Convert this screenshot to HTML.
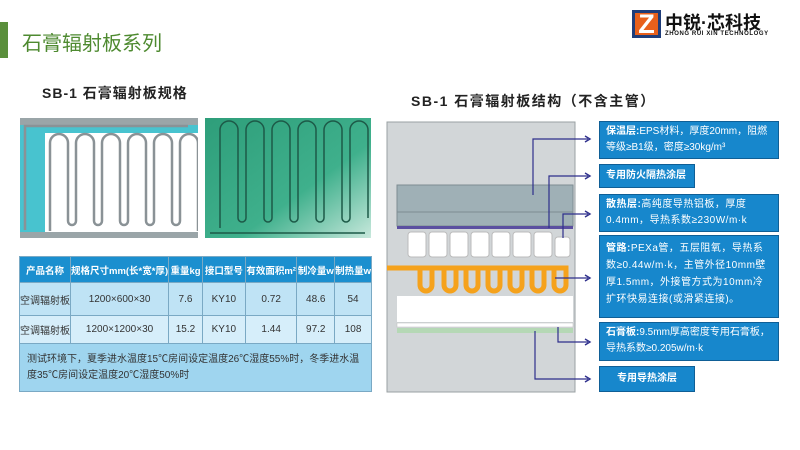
<!DOCTYPE html>
<html><head><meta charset="utf-8"><style>
*{margin:0;padding:0;box-sizing:border-box}
body{width:800px;height:450px;background:#fff;position:relative;overflow:hidden;font-family:"Liberation Sans","Noto Sans CJK SC",sans-serif}
.a{position:absolute}
table{border-collapse:collapse;position:absolute;left:19px;top:256px;width:353px;font-size:10px;color:#333}
td{border:1px solid #7aa9c4;text-align:center;background:#bfe3f5;white-space:nowrap}
tr.h td{background:#1b8fcf;color:#fff;font-weight:bold;height:26px;font-size:9.5px}
.cb{position:absolute;background:#1787cc;color:#fff;font-size:10px;line-height:16px;padding:2px 6px;border:1px solid #0f5f96}
.cb b{font-weight:bold}
</style></head><body>
<div class="a" style="left:0;top:22px;width:8px;height:36px;background:#5a8f3c"></div>
<div class="a" style="left:22px;top:27px;font-size:20px;color:#4e8a30">石膏辐射板系列</div>
<div class="a" style="left:632px;top:10px;width:29px;height:28px;background:#1f3d7a"></div>
<div class="a" style="left:635px;top:13px;width:23px;height:22px;background:#e8601c"></div>
<div class="a" style="left:632px;top:7px;width:29px;font-size:27px;font-weight:bold;color:#fff;text-align:center;line-height:34px">Z</div>
<div class="a" style="left:665px;top:9px;font-size:18px;font-weight:bold;color:#111">中锐·芯科技</div>
<div class="a" style="left:665px;top:31px;font-size:6px;font-weight:bold;color:#111;letter-spacing:0.6px">ZHONG RUI XIN TECHNOLOGY</div>

<div class="a" style="left:42px;top:83px;font-size:14px;font-weight:bold;color:#222;letter-spacing:1px">SB-1 石膏辐射板规格</div>
<div class="a" style="left:411px;top:91px;font-size:14px;font-weight:bold;color:#222;letter-spacing:1.5px">SB-1 石膏辐射板结构（不含主管）</div>

<svg class="a" style="left:20px;top:118px" width="178" height="120">
<rect width="178" height="120" fill="#48c3cf"/>
<rect x="0" y="0" width="178" height="7" fill="#9aa5a8"/>
<rect x="25" y="15" width="153" height="100" fill="#fff"/>
<rect x="0" y="114" width="178" height="6" fill="#9aa5a8"/>
<g fill="none" stroke="#8a9296" stroke-width="2.5">
<path d="M30 113 V25 a9 9 0 0 1 18 0 V103 a4 4 0 0 0 8 0 V25 a9 9 0 0 1 18 0 V103 a4 4 0 0 0 8 0 V25 a9 9 0 0 1 18 0 V103 a4 4 0 0 0 8 0 V25 a9 9 0 0 1 18 0 V103 a4 4 0 0 0 8 0 V25 a9 9 0 0 1 18 0 V103 a4 4 0 0 0 8 0 V25 a9 9 0 0 1 18 0 V113"/>
<path d="M5 112 V8 H168"/>
</g></svg>
<svg class="a" style="left:205px;top:118px" width="166" height="120">
<defs><linearGradient id="g" x1="0" y1="0" x2="1" y2="1"><stop offset="0" stop-color="#2e9e7a"/><stop offset="0.6" stop-color="#3fb08c"/><stop offset="1" stop-color="#c8e8dc"/></linearGradient></defs>
<rect width="166" height="120" fill="url(#g)"/>
<path d="M15 110 V12 a9 9 0 0 1 18 0 V100 a4 4 0 0 0 8 0 V12 a9 9 0 0 1 18 0 V100 a4 4 0 0 0 8 0 V12 a9 9 0 0 1 18 0 V100 a4 4 0 0 0 8 0 V12 a9 9 0 0 1 18 0 V100 a4 4 0 0 0 8 0 V12 a9 9 0 0 1 18 0 V100 a4 4 0 0 0 8 0 V12 a9 9 0 0 1 18 0 V100" fill="none" stroke="#1d5a48" stroke-width="1.5"/>
<path d="M5 115 H160" stroke="#1d5a48" stroke-width="1.5"/>
</svg>

<table>
<tr class="h"><td style="width:48px">产品名称</td><td style="width:98px">规格尺寸mm(长*宽*厚)</td><td style="width:35px">重量kg</td><td style="width:45px">接口型号</td><td style="width:52px">有效面积m²</td><td style="width:38px">制冷量w</td><td>制热量w</td></tr>
<tr style="height:33px"><td>空调辐射板</td><td>1200×600×30</td><td>7.6</td><td>KY10</td><td>0.72</td><td>48.6</td><td>54</td></tr>
<tr style="height:28px"><td style="background:#d6eefa">空调辐射板</td><td style="background:#d6eefa">1200×1200×30</td><td style="background:#d6eefa">15.2</td><td style="background:#d6eefa">KY10</td><td style="background:#d6eefa">1.44</td><td style="background:#d6eefa">97.2</td><td style="background:#d6eefa">108</td></tr>
<tr style="height:48px"><td colspan="7" style="text-align:left;padding:2px 7px;line-height:16px;background:#9fd5ef;white-space:normal">测试环境下，夏季进水温度15℃房间设定温度26℃湿度55%时，冬季进水温度35℃房间设定温度20℃湿度50%时</td></tr>
</table>

<svg class="a" style="left:0;top:0" width="800" height="450">
<rect x="387" y="122" width="188" height="270" fill="#d2d6d8" stroke="#9aa0a3"/>
<rect x="397" y="185" width="176" height="41" fill="#9fb0b6" stroke="#7d8c92"/>
<line x1="397" y1="212" x2="573" y2="212" stroke="#7d8c92"/>
<rect x="397" y="226" width="176" height="3" fill="#5b4fa0"/>
<g fill="#fff" stroke="#bbb">
<rect x="408" y="232" width="18" height="25" rx="3"/><rect x="429" y="232" width="18" height="25" rx="3"/><rect x="450" y="232" width="18" height="25" rx="3"/><rect x="471" y="232" width="18" height="25" rx="3"/><rect x="492" y="232" width="18" height="25" rx="3"/><rect x="513" y="232" width="18" height="25" rx="3"/><rect x="534" y="232" width="18" height="25" rx="3"/><rect x="555" y="237" width="15" height="20" rx="3"/>
</g>
<path d="M387 268 H428 M420 268 V285 a6 6 0 0 0 12 0 V268 H444 V285 a6 6 0 0 0 12 0 V268 H466 V285 a6 6 0 0 0 12 0 V268 H488 V285 a6 6 0 0 0 12 0 V268 H510 V285 a6 6 0 0 0 12 0 V268 H532 V285 a6 6 0 0 0 12 0 V268 H554 V285 a6 6 0 0 0 12 0 V268 H387" fill="none" stroke="#f5a21c" stroke-width="5"/>
<rect x="397" y="296" width="176" height="26" fill="#fff"/>
<rect x="397" y="323" width="176" height="4" fill="#fff" stroke="#bbb" stroke-width="0.5"/>
<rect x="397" y="328" width="176" height="5" fill="#b5d8b5"/>
<g fill="none" stroke="#2e2f8c" stroke-width="1.2">
<path d="M533 195 V139 H588"/><path d="M549 228 V176 H588"/><path d="M563 238 V214 H588"/><path d="M555 278 H588"/><path d="M558 327 V342 H588"/><path d="M535 331 V379 H588"/>
</g>
<g fill="none" stroke="#2e2f8c" stroke-width="1.4">
<path d="M585 136 L590 139 L585 142"/><path d="M585 173 L590 176 L585 179"/><path d="M585 211 L590 214 L585 217"/><path d="M585 275 L590 278 L585 281"/><path d="M585 339 L590 342 L585 345"/><path d="M585 376 L590 379 L585 382"/>
</g>
</svg>
<div class="cb" style="left:599px;top:121px;width:180px;height:38px"><b>保温层:</b>EPS材料，厚度20mm，阻燃等级≥B1级，密度≥30kg/m³</div>
<div class="cb" style="left:599px;top:164px;width:96px;height:24px;font-weight:bold;line-height:18px">专用防火隔热涂层</div>
<div class="cb" style="left:599px;top:194px;width:180px;height:38px;letter-spacing:0.5px"><b>散热层:</b>高纯度导热铝板，厚度0.4mm，导热系数≥230W/m·k</div>
<div class="cb" style="left:599px;top:235px;width:180px;height:83px;letter-spacing:0.5px;padding-top:4px;line-height:17px"><b>管路:</b>PEXa管，五层阻氧，导热系数≥0.44w/m·k，主管外径10mm壁厚1.5mm，外接管方式为10mm冷扩环快易连接(或滑紧连接)。</div>
<div class="cb" style="left:599px;top:322px;width:180px;height:39px"><b>石膏板:</b>9.5mm厚高密度专用石膏板，导热系数≥0.205w/m·k</div>
<div class="cb" style="left:599px;top:366px;width:96px;height:26px;font-weight:bold;text-align:center;line-height:20px">专用导热涂层</div>
</body></html>
